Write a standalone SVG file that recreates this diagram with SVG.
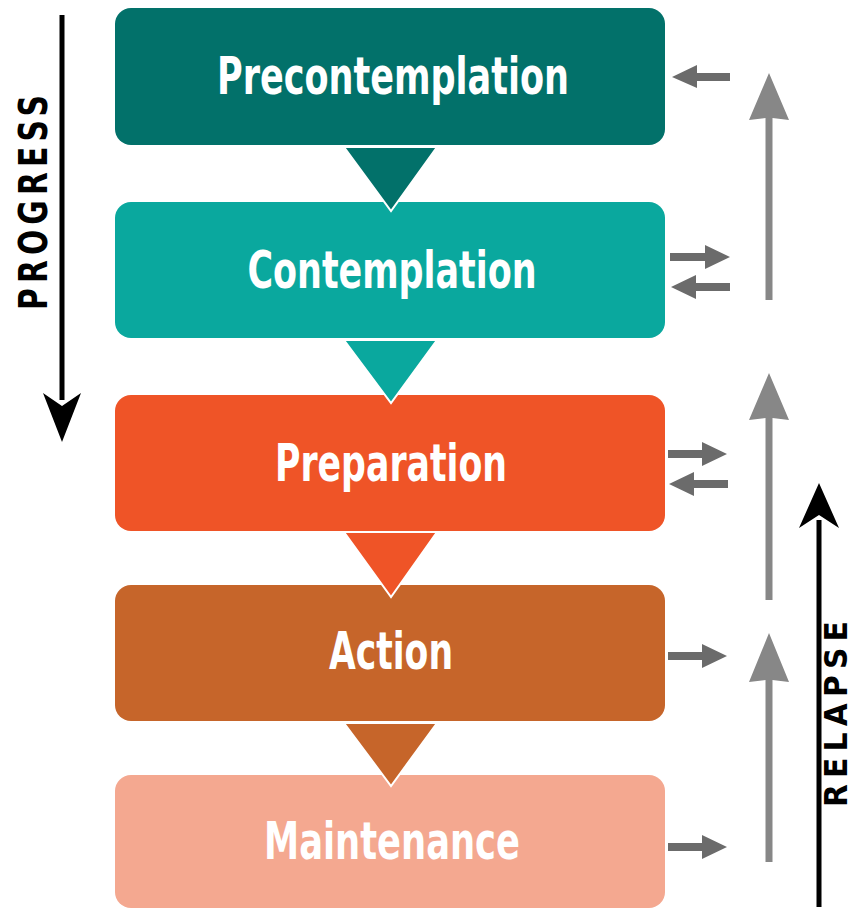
<svg xmlns="http://www.w3.org/2000/svg" width="856" height="910" viewBox="0 0 856 910">
<style>
.lbl{font-family:"Liberation Sans Narrow","DejaVu Sans Condensed","Roboto Condensed",sans-serif;font-weight:bold;font-size:51px;fill:#fff;}
.side{font-family:"Liberation Sans Narrow","DejaVu Sans Condensed","Roboto Condensed",sans-serif;font-weight:bold;font-size:39px;fill:#000;}
.tri{stroke:#fff;stroke-width:2;stroke-linejoin:miter;}
.sm{fill:#6b6b6b;}
.big{fill:#878787;}
</style>
<rect width="856" height="910" fill="#fff"/>
<g id="precontemplation">
<rect x="115" y="8" width="550" height="137" rx="16" fill="#02716a"/>
<text class="lbl" x="393" y="94" text-anchor="middle" textLength="352" lengthAdjust="spacingAndGlyphs">Precontemplation</text>
</g>
<g id="contemplation">
<rect x="115" y="202" width="550" height="136" rx="16" fill="#0aa89e"/>
<text class="lbl" x="392" y="288" text-anchor="middle" textLength="289" lengthAdjust="spacingAndGlyphs">Contemplation</text>
</g>
<g id="preparation">
<rect x="115" y="395" width="550" height="136" rx="16" fill="#ef5427"/>
<text class="lbl" x="391" y="481" text-anchor="middle" textLength="232" lengthAdjust="spacingAndGlyphs">Preparation</text>
</g>
<g id="action">
<rect x="115" y="585" width="550" height="136" rx="16" fill="#c6652a"/>
<text class="lbl" x="391" y="669" text-anchor="middle" textLength="124" lengthAdjust="spacingAndGlyphs">Action</text>
</g>
<g id="maintenance">
<rect x="115" y="775" width="550" height="133" rx="16" fill="#f4a890"/>
<text class="lbl" x="392" y="859" text-anchor="middle" textLength="256" lengthAdjust="spacingAndGlyphs">Maintenance</text>
</g>
<g id="connectors">
<polygon class="tri" points="344,147 437,147 391,211" fill="#02716a"/>
<polygon class="tri" points="344,340 437,340 391,403" fill="#0aa89e"/>
<polygon class="tri" points="344,532 437,532 391,597" fill="#ef5427"/>
<polygon class="tri" points="344,723 437,723 391,786" fill="#c6652a"/>
<!-- progress arrow -->
<rect x="59.5" y="15" width="5" height="385" fill="#000"/>
<polygon points="43,393 62,406 81,393 62,442" fill="#000"/>
<text class="side" transform="translate(47,200) rotate(-90)" text-anchor="middle" textLength="220" lengthAdjust="spacingAndGlyphs" letter-spacing="6">PROGRESS</text>
<!-- relapse arrow -->
<rect x="816.5" y="520" width="5" height="387" fill="#000"/>
<polygon points="799,528 819,515 839,528 819,483" fill="#000"/>
<text class="side" transform="translate(847,711) rotate(-90)" style="font-size:32px" text-anchor="middle" textLength="192" lengthAdjust="spacingAndGlyphs" letter-spacing="6">RELAPSE</text>
<!-- small arrows -->
<polygon class="sm" points="730,73 697,73 697,65 672,77 697,88 697,81 730,81"/>
<polygon class="sm" points="670,253 705,253 705,245 730,257 705,269 705,261 670,261"/>
<polygon class="sm" points="730,283 696,283 696,275 671,287 696,299 696,291 730,291"/>
<polygon class="sm" points="668,450 702,450 702,442 727,454 702,466 702,458 668,458"/>
<polygon class="sm" points="728,480 694,480 694,472 669,484 694,496 694,488 728,488"/>
<polygon class="sm" points="668,652 702,652 702,644 727,656 702,668 702,660 668,660"/>
<polygon class="sm" points="668,843 702,843 702,835 727,847 702,859 702,851 668,851"/>
<!-- big gray arrows -->
<polygon class="big" points="765.5,300 765.5,118 749,120 769,73 789,120 772.5,118 772.5,300"/>
<polygon class="big" points="765.5,600 765.5,418 749,420 769,373 789,420 772.5,418 772.5,600"/>
<polygon class="big" points="765.5,862 765.5,680 749,682 769,633 789,682 772.5,680 772.5,862"/>
</g>
</svg>
